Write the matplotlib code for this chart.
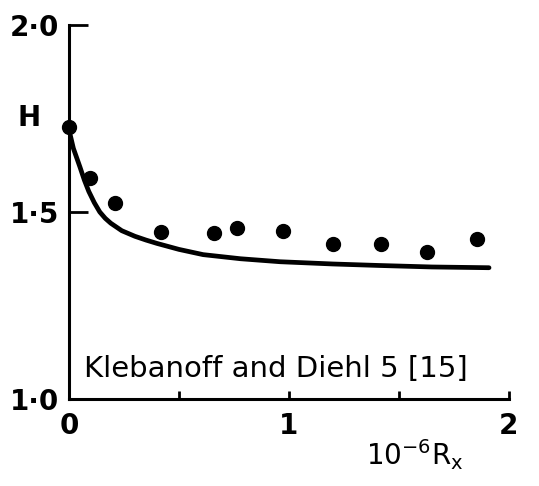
import matplotlib
matplotlib.use("Agg")
import matplotlib.pyplot as plt
from matplotlib.ticker import FixedLocator, NullFormatter

# measured shape factor along the plate (Klebanoff and Diehl)
rx_meas = [0.0, 0.095, 0.21, 0.42, 0.66, 0.765, 0.975, 1.20, 1.42, 1.63, 1.855]
h_meas = [1.727, 1.591, 1.523, 1.446, 1.445, 1.458, 1.449, 1.414, 1.414, 1.393, 1.427]

# computed curve
rx_calc = [0.0, 0.01, 0.02, 0.035, 0.05, 0.07, 0.09, 0.115, 0.14, 0.165, 0.19, 0.24,
           0.30, 0.35, 0.40, 0.50, 0.61, 0.78, 0.96, 1.20, 1.41, 1.65, 1.91]
h_calc = [1.72, 1.695, 1.67, 1.645, 1.62, 1.585, 1.555, 1.525, 1.50, 1.483, 1.47, 1.45,
          1.435, 1.425, 1.416, 1.40, 1.386, 1.375, 1.367, 1.361, 1.357, 1.353, 1.351]

fig = plt.figure(figsize=(5.39, 4.86), dpi=100)
ax = fig.add_axes([0.128, 0.179, 0.816, 0.7696])

ax.plot(rx_calc, h_calc, color="black", lw=3.4, solid_capstyle="round",
        solid_joinstyle="round", zorder=3)
ax.plot(rx_meas, h_meas, "o", color="black", ms=10, zorder=4, clip_on=False)

ax.set_xlim(0, 2)
ax.set_ylim(1.0, 2.0)

for s in ("top", "right"):
    ax.spines[s].set_visible(False)
for s in ("left", "bottom"):
    ax.spines[s].set_linewidth(2.2)

ax.xaxis.set_major_locator(FixedLocator([0, 1, 2]))
ax.xaxis.set_minor_locator(FixedLocator([0.5, 1.5]))
ax.xaxis.set_minor_formatter(NullFormatter())
ax.set_xticklabels(["0", "1", "2"])
ax.yaxis.set_major_locator(FixedLocator([1.0, 1.5, 2.0]))
ax.set_yticklabels(["1\u00b70", "1\u00b75", "2\u00b70"])

ax.tick_params(axis="x", which="both", direction="in", length=6, width=2.0,
               pad=9, labelsize=20)
ax.tick_params(axis="y", which="major", direction="in", length=14, width=2.0,
               pad=7, labelsize=20)
for lbl in ax.get_xticklabels() + ax.get_yticklabels():
    lbl.set_fontweight("bold")

ax.text(-0.18, 1.75, "H", fontsize=20, fontweight="bold", ha="center", va="center",
        clip_on=False)
ax.text(1.57, 0.85, r"10$^{-6}$R$_\mathregular{x}$", fontsize=20, ha="center",
        va="center", clip_on=False)
ax.text(0.07, 1.06, "Klebanoff and Diehl 5 [15]", fontsize=21, ha="left",
        va="baseline")

fig.savefig("out.png", dpi=100, facecolor="white")
